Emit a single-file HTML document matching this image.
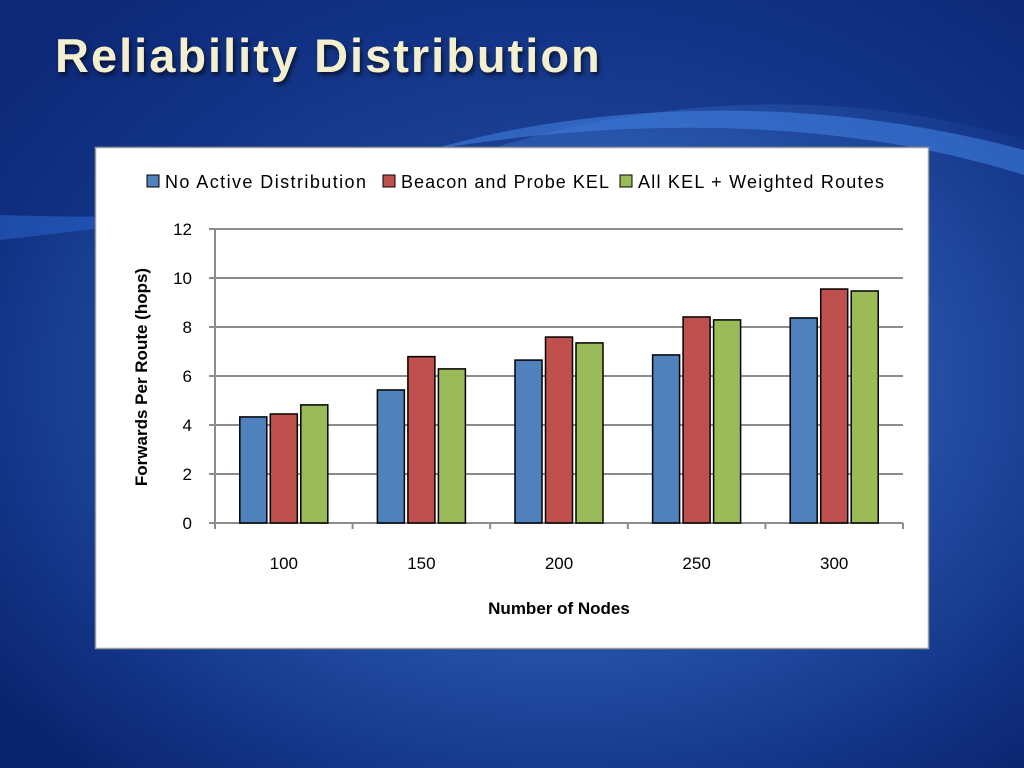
<!DOCTYPE html>
<html><head><meta charset="utf-8"><style>
html,body{margin:0;padding:0;width:1024px;height:768px;overflow:hidden}
body{background:radial-gradient(ellipse 700px 520px at 560px 380px,#4a7dcc 0%,#2c5bb0 40%,#163a8e 75%,#0b2470 100%);font-family:"Liberation Sans",sans-serif;position:relative}
#title{position:absolute;left:55px;top:28px;font-size:47px;font-weight:bold;color:#f3efcf;text-shadow:2px 3px 4px rgba(0,0,0,0.6);margin:0;letter-spacing:2px}
svg{position:absolute;left:0;top:0}
</style></head><body>
<svg width="1024" height="768">
<path d="M0,215 C200,225 350,190 520,140 C680,95 860,90 1024,140 L1024,0 L0,0 Z" fill="#0f2c7c" opacity="0.55"/>
<path d="M430,150 C600,100 820,95 1024,150 L1024,175 C850,120 640,115 430,150Z" fill="#3f7ee0" opacity="0.6"/>
<path d="M0,215 C100,218 200,218 300,205 L0,240Z" fill="#2a66d0" opacity="0.5"/>
</svg>
<h1 id="title">Reliability Distribution</h1>
<svg id="chart" width="1024" height="768"></svg>
<script>
const categories=["100","150","200","250","300"];
const seriesNames=["No Active Distribution","Beacon and Probe KEL","All KEL + Weighted Routes"];
const noActive=[4.33,5.43,6.65,6.86,8.37];
const beaconProbe=[4.45,6.79,7.59,8.41,9.55];
const allKel=[4.82,6.29,7.35,8.29,9.47];
const yTicks=[0,2,4,6,8,10,12];
const NS="http://www.w3.org/2000/svg";
const svg=document.getElementById('chart');
function mk(t,a,p){const e=document.createElementNS(NS,t);for(const k in a)e.setAttribute(k,a[k]);(p||svg).appendChild(e);return e;}
const x0=215,x1=903,yBase=523,yTop=229,yMax=12;
const y=v=>yBase-(v/yMax)*(yBase-yTop);
const catW=(x1-x0)/categories.length;
const box=mk('rect',{x:95.5,y:147.5,width:833,height:501,fill:'#fff',stroke:'#9a9a9a','stroke-width':1.5});


yTicks.forEach(t=>{
 const g=mk('line',{x1:x0-6,x2:x1,y1:y(t),y2:y(t),stroke:'#8c8c8c','stroke-width':2});
 
 
 const l=mk('text',{x:192,y:y(t)+6,'text-anchor':'end','font-size':17,fill:'#000'});
 l.textContent=t;
 
 
});
const ax=mk('line',{x1:x0,x2:x0,y1:yTop,y2:yBase,stroke:'#8c8c8c','stroke-width':2});


for(let i=0;i<=categories.length;i++){const tk=mk('line',{x1:x0+i*catW,x2:x0+i*catW,y1:yBase,y2:yBase+6,stroke:'#8c8c8c','stroke-width':2});
 
 }
const colors=['#4f81bd','#c0504d','#9bbb59'];
const data=[noActive,beaconProbe,allKel];
const bw=27,gap=3.5;
categories.forEach((c,i)=>{
 const cx=x0+catW*(i+0.5);
 data.forEach((s,j)=>{
  const bx=cx-1.5*bw-gap+j*(bw+gap);
  const r=mk('rect',{x:bx,y:y(s[i]),width:bw,height:yBase-y(s[i]),fill:colors[j],stroke:'#000','stroke-width':1.5});
  
  
 });
 const l=mk('text',{x:cx,y:569,'text-anchor':'middle','font-size':17});
 l.textContent=c;
 
 
});
const xt=mk('text',{x:559,y:614,'text-anchor':'middle','font-size':17,'font-weight':'bold'});
xt.textContent='Number of Nodes';


const yt=mk('text',{x:0,y:0,'text-anchor':'middle','font-size':17,'font-weight':'bold',transform:'translate(147,377) rotate(-90)'});
yt.textContent='Forwards Per Route (hops)';


const lx=[147,383,620];
const lw=[201,208,246];
seriesNames.forEach((n,j)=>{
 const r=mk('rect',{x:lx[j],y:175,width:12,height:12,fill:colors[j],stroke:'#000','stroke-width':1});
 
 
 const t=mk('text',{x:lx[j]+18,y:188,'font-size':18,textLength:lw[j],lengthAdjust:'spacing'});
 t.textContent=n;
 
 
});
</script>
</body></html>
